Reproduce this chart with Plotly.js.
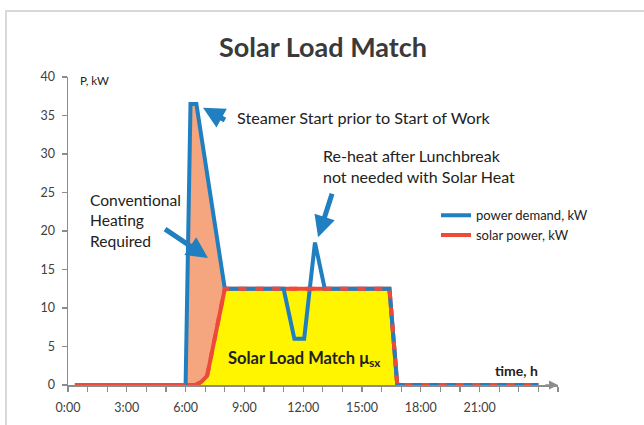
<!DOCTYPE html>
<html>
<head>
<meta charset="utf-8">
<script src="https://cdn.plot.ly/plotly-3.0.1.min.js"></script>
<style>
html,body{margin:0;padding:0;background:#fff;}
#frame{position:absolute;left:5px;top:10px;width:700px;height:500px;border-left:2px solid #d9d9d9;border-top:2px solid #d9d9d9;pointer-events:none;z-index:5;}
#chart{position:absolute;left:0;top:0;width:644px;height:425px;}
</style>
</head>
<body>
<div id="chart"></div>
<div id="frame"></div>
<script>
// time in hours
const demandTime   = [6.0, 6.25, 6.55, 8.0, 11.0, 11.55, 12.05, 12.6, 13.1, 16.4, 16.8, 24.0];
const demandValues = [0,   36.5, 36.5, 12.5, 12.5, 6.0,  6.0,  18.5, 12.5, 12.5, 0,    0];
const solarTime    = [0.35, 6.5, 6.8, 7.1, 8.0, 16.4, 16.8, 24.0];
const solarValues  = [0,    0,   0.4, 1.2, 12.5, 12.5, 0,   0];
const tickHours    = [0, 3, 6, 9, 12, 15, 18, 21];
const tickLabels   = ['0:00','3:00','6:00','9:00','12:00','15:00','18:00','21:00'];
const yTicks       = [0, 5, 10, 15, 20, 25, 30, 35, 40];
const seriesNames  = ['power demand, kW', 'solar power, kW'];

const BLUE = '#1f7fc1', RED = '#ee4a38', ORANGE = '#f5a67e', YELLOW = '#fff500';
const FONT = 'Lato, "Open Sans", sans-serif';

// morning part of demand (conventional heating area)
const mornT = [], mornV = [];
demandTime.forEach((t,i)=>{ if (t <= 8.0) { mornT.push(t); mornV.push(demandValues[i]); } });

const traces = [
  {x: mornT, y: mornV, type:'scatter', mode:'lines', fill:'tozeroy', fillcolor: ORANGE,
   line:{width:0, color:ORANGE}, showlegend:false, hoverinfo:'skip'},
  {x: solarTime, y: solarValues, type:'scatter', mode:'lines', fill:'tozeroy', fillcolor: YELLOW,
   line:{width:0, color:YELLOW}, showlegend:false, hoverinfo:'skip'},
  {x: solarTime, y: solarValues, type:'scatter', mode:'lines', name: seriesNames[1],
   line:{width:4, color:RED}, legendrank:2},
  {x: demandTime, y: demandValues, type:'scatter', mode:'lines', name: seriesNames[0],
   line:{width:4, color:BLUE}, legendrank:1},
  {x: solarTime, y: solarValues, type:'scatter', mode:'lines', showlegend:false,
   line:{width:4, color:RED, dash:'8px,9px'}}
];

const textColor = '#222222';
const arrowStyle = {showarrow:true, arrowcolor:BLUE, arrowwidth:5, arrowhead:2, arrowsize:0.85,
                    axref:'x', ayref:'y', standoff:0, text:' '};

const layout = {
  width:644, height:425,
  margin:{l:68, r:86, t:77, b:40},
  paper_bgcolor:'#fff', plot_bgcolor:'#fff',
  font:{family:FONT, color:'#404040'},
  title:{text:'<b>Solar Load Match</b>', font:{family:FONT, size:27, color:'#3a3a3a'},
         x:0.5016, xref:'container', xanchor:'center', y:1-48/425, yref:'container', yanchor:'middle'},
  xaxis:{range:[0,25], tickmode:'array', tickvals:tickHours, ticktext:tickLabels,
         showgrid:false, zeroline:false, showline:true, linecolor:'#8c8c8c', linewidth:1.5,
         ticks:'outside', ticklen:5, tickcolor:'#8c8c8c', tickwidth:1.2,
         tickfont:{size:12.5, color:'#404040'}, ticklabelstandoff:5,
         minor:{tickmode:'linear', tick0:0, dtick:1, ticks:'outside', ticklen:5, tickcolor:'#8c8c8c', tickwidth:1.2}},
  yaxis:{range:[0,40], tickmode:'array', tickvals:yTicks,
         showgrid:false, zeroline:false, showline:true, linecolor:'#8c8c8c', linewidth:1.5,
         ticks:'outside', ticklen:5, tickcolor:'#8c8c8c', tickwidth:1.2,
         tickfont:{size:12.5, color:'#404040'}, ticklabelstandoff:4},
  showlegend:true,
  legend:{x:0.751, y:0.60, xanchor:'left', yanchor:'top', bgcolor:'rgba(0,0,0,0)',
          font:{size:13, color:textColor}, tracegroupgap:0, itemwidth:30},
  annotations:[
    {x:0.51, y:39.6, xref:'x', yref:'y', text:'P, kW', showarrow:false, xanchor:'left', yanchor:'middle',
     font:{size:11.5, color:textColor}},
    {x:22.9, y:1.9, xref:'x', yref:'y', text:'<b>time, h</b>', showarrow:false, xanchor:'center', yanchor:'middle',
     font:{size:14, color:textColor}},
    {x:8.52, y:34.8, xref:'x', yref:'y', text:'Steamer Start prior to Start of Work', showarrow:false,
     xanchor:'left', yanchor:'middle', font:{size:16.2, color:textColor}},
    {x:12.9, y:28.4, xref:'x', yref:'y', text:'Re-heat after Lunchbreak<br>not needed with Solar Heat', showarrow:false,
     xanchor:'left', yanchor:'middle', align:'left', font:{size:16, color:textColor}},
    {x:1.0, y:21.3, xref:'x', yref:'y', text:'Conventional<br>Heating<br>Required', showarrow:false,
     xanchor:'left', yanchor:'middle', align:'left', font:{size:15.6, color:textColor}},
    {x:8.05, y:3.5, xref:'x', yref:'y', text:'<b>Solar Load Match μ<sub>sx</sub></b>', showarrow:false,
     xanchor:'left', yanchor:'middle', font:{size:16.5, color:textColor}},
    Object.assign({x:6.89, y:36.0, ax:8.16, ay:34.2, xref:'x', yref:'y'}, arrowStyle),
    Object.assign({x:12.76, y:19.2, ax:13.62, ay:26.0, xref:'x', yref:'y'}, arrowStyle),
    Object.assign({x:7.14, y:16.5, ax:4.8, ay:20.5, xref:'x', yref:'y'}, arrowStyle),
    {x:25, y:0, ax:24.2, ay:0, xref:'x', yref:'y', axref:'x', ayref:'y', text:' ', showarrow:true,
     arrowcolor:'#8c8c8c', arrowwidth:1.5, arrowhead:2, arrowsize:1.2, standoff:0}
  ]
};

Plotly.newPlot('chart', traces, layout, {displayModeBar:false, staticPlot:true});
</script>
</body>
</html>
